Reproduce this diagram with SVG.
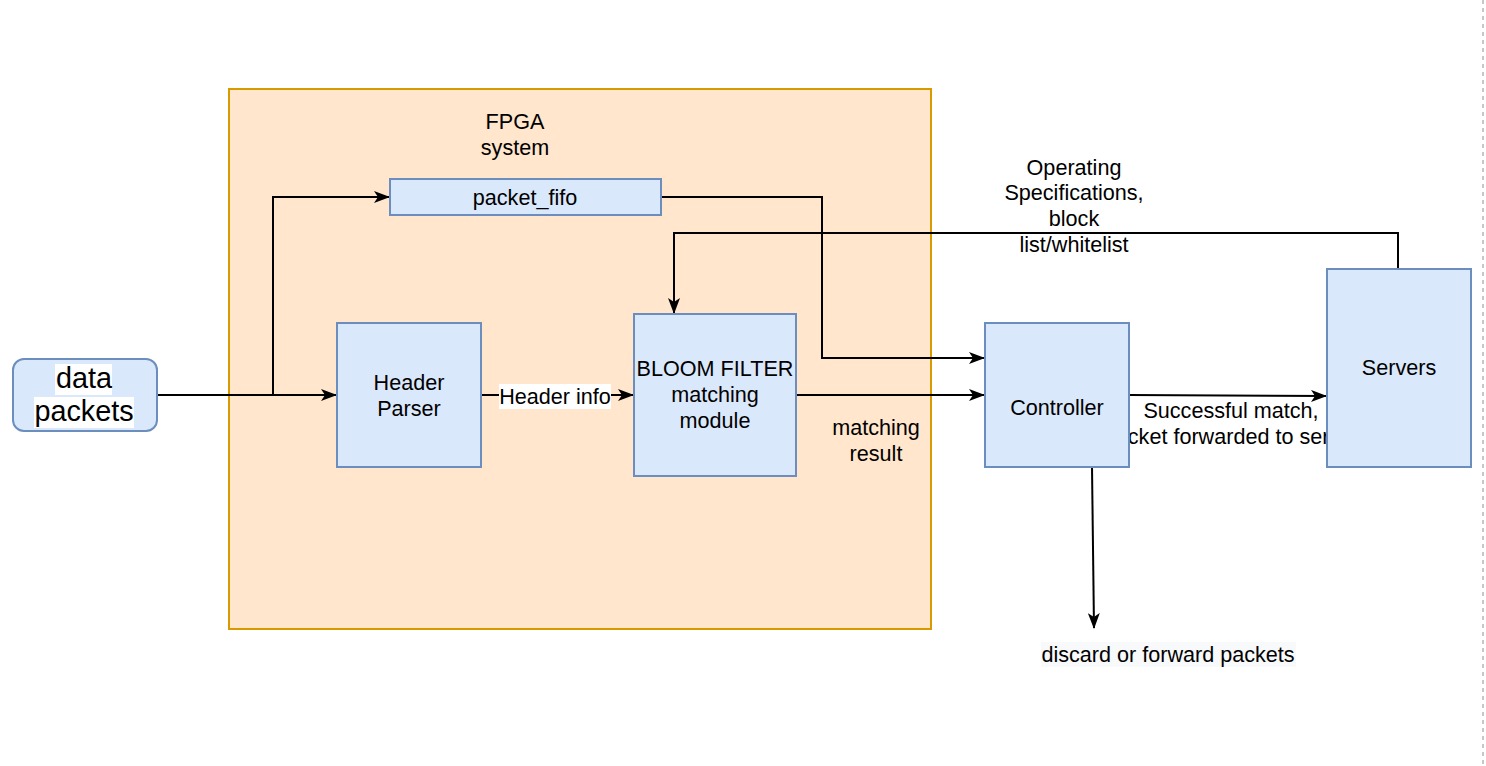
<svg xmlns="http://www.w3.org/2000/svg" width="1486" height="766" viewBox="0 0 1486 766">
<defs>
<style>
.t{font-family:"Liberation Sans",Arial,sans-serif;font-size:21.6px;fill:#000;text-anchor:middle}
.big{font-size:28.8px}
.node{fill:#dae8fc;stroke:#6c8ebf;stroke-width:2}
.edge{fill:none;stroke:#000;stroke-width:2}
</style>
<marker id="arr" viewBox="0 0 16 12" refX="15" refY="6" markerWidth="16" markerHeight="12" markerUnits="userSpaceOnUse" orient="auto">
<path d="M0,0 L16,6 L0,12 L4,6 Z" fill="#000"/>
</marker>
</defs>
<rect x="0" y="0" width="1486" height="766" fill="#fff"/>
<line x1="1483" y1="0" x2="1483" y2="766" stroke="#c8c8c8" stroke-width="2" stroke-dasharray="4,4"/>

<g id="fpga">
<rect x="229" y="89" width="702" height="540" fill="#ffe6cc" stroke="#d79b00" stroke-width="2"/>
<text class="t" x="515" y="129">FPGA</text>
<text class="t" x="515" y="155">system</text>
</g>

<g id="edge-labels-back">
<text class="t" x="1231" y="418">Successful match,</text>
<text class="t" x="1237" y="444">packet forwarded to servers</text>
</g>

<g id="connectors">
<path class="edge" d="M157,395 L336,395" marker-end="url(#arr)"/>
<path class="edge" d="M273,395 L273,197 L389,197" marker-end="url(#arr)"/>
<path class="edge" d="M661,197 L822,197 L822,358 L984,358" marker-end="url(#arr)"/>
<path class="edge" d="M481,395 L633,395" marker-end="url(#arr)"/>
<path class="edge" d="M796,395 L984,395" marker-end="url(#arr)"/>
<path class="edge" d="M1398,269 L1398,233 L674,233 L674,313" marker-end="url(#arr)"/>
<path class="edge" d="M1129,395 L1326,396" marker-end="url(#arr)"/>
<path class="edge" d="M1092,467 L1094,628" marker-end="url(#arr)"/>
<rect x="499" y="384" width="112" height="25" fill="#fff"/>
<text class="t" x="555" y="404">Header info</text>
<text class="t" x="876" y="435">matching</text>
<text class="t" x="876" y="461">result</text>
<text class="t" x="1074" y="175">Operating</text>
<text class="t" x="1074" y="200">Specifications,</text>
<text class="t" x="1074" y="226">block</text>
<text class="t" x="1074" y="252">list/whitelist</text>
<rect x="1041" y="642" width="255" height="25" fill="#f8f9fa"/>
<text class="t" x="1168" y="662">discard or forward packets</text>
</g>

<g id="data-packets">
<rect class="node" x="13" y="359" width="144" height="72" rx="11"/>
<rect x="55" y="364" width="57" height="31" fill="#fff"/>
<rect x="34" y="397" width="100" height="31" fill="#fff"/>
<text class="t big" x="84" y="388">data</text>
<text class="t big" x="84" y="421">packets</text>
</g>

<g id="packet-fifo">
<rect class="node" x="390" y="179" width="271" height="36"/>
<text class="t" x="525" y="205">packet_fifo</text>
</g>

<g id="header-parser">
<rect class="node" x="337" y="323" width="144" height="144"/>
<text class="t" x="409" y="390">Header</text>
<text class="t" x="409" y="416">Parser</text>
</g>

<g id="bloom-filter">
<rect class="node" x="634" y="314" width="162" height="162"/>
<text class="t" x="715" y="376">BLOOM FILTER</text>
<text class="t" x="715" y="402">matching</text>
<text class="t" x="715" y="428">module</text>
</g>

<g id="controller">
<rect class="node" x="985" y="323" width="144" height="144"/>
<text class="t" x="1057" y="415">Controller</text>
</g>

<g id="servers">
<rect class="node" x="1327" y="269" width="144" height="198"/>
<text class="t" x="1399" y="375">Servers</text>
</g>
</svg>
